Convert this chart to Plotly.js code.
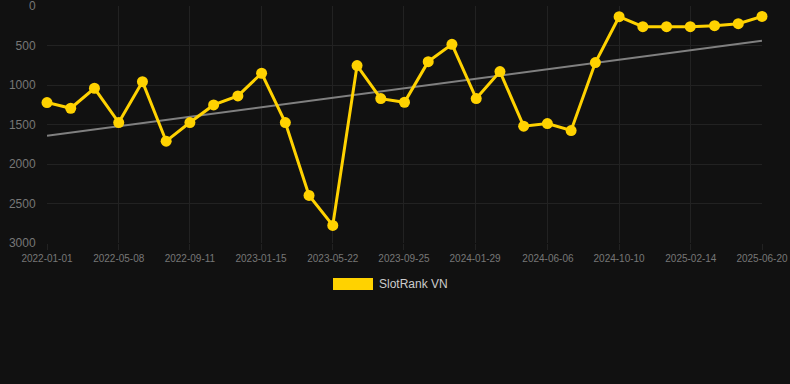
<!DOCTYPE html>
<html>
<head>
<meta charset="utf-8">
<script src="https://cdn.plot.ly/plotly-3.0.1.min.js"></script>
<style>
  html, body { margin: 0; padding: 0; background: #111111; }
  #chart { width: 790px; height: 384px; }
</style>
</head>
<body>
<div id="chart"></div>
<script>
const seriesName = "SlotRank VN";
const dates = [
  "2022-01-01", "2022-02-12", "2022-03-26", "2022-05-08", "2022-06-19",
  "2022-07-31", "2022-09-11", "2022-10-23", "2022-12-05", "2023-01-16",
  "2023-02-27", "2023-04-10", "2023-05-22", "2023-07-04", "2023-08-15",
  "2023-09-26", "2023-11-07", "2023-12-19", "2024-01-31", "2024-03-13",
  "2024-04-24", "2024-06-05", "2024-07-17", "2024-08-29", "2024-10-10",
  "2024-11-21", "2025-01-02", "2025-02-13", "2025-03-28", "2025-05-09",
  "2025-06-20"
];
const ranks = [
  1222, 1294, 1041, 1475, 957,
  1711, 1475, 1252, 1138, 851,
  1475, 2398, 2777, 754, 1172,
  1218, 704, 485, 1172, 830,
  1521, 1488, 1576, 716, 135,
  261, 261, 261, 249, 223,
  131
];
const trendDates = ["2022-01-01", "2025-06-20"];
const trendValues = [1643, 438];
const xTickVals = [
  "2022-01-01", "2022-05-08", "2022-09-11", "2023-01-15", "2023-05-22",
  "2023-09-25", "2024-01-29", "2024-06-06", "2024-10-10", "2025-02-14",
  "2025-06-20"
];
const yTickVals = [0, 500, 1000, 1500, 2000, 2500, 3000];

const yellow = "#FFD200";

const traces = [
  {
    x: trendDates, y: trendValues, type: "scatter", mode: "lines",
    line: { color: "#808080", width: 2 }, showlegend: false, hoverinfo: "skip",
    cliponaxis: false
  },
  {
    x: dates, y: ranks, type: "scatter", mode: "lines+markers", name: seriesName,
    line: { color: yellow, width: 3 },
    marker: { color: yellow, size: 11 },
    showlegend: false, cliponaxis: false
  }
];

const layout = {
  width: 790, height: 384,
  paper_bgcolor: "#111111", plot_bgcolor: "#111111",
  margin: { l: 47, r: 28, t: 6, b: 141 },
  showlegend: false,
  xaxis: {
    type: "date",
    range: ["2022-01-01", "2025-06-20"],
    tickvals: xTickVals, ticktext: xTickVals,
    tickfont: { family: "Liberation Sans, Arial, sans-serif", size: 10, color: "#777777" },
    gridcolor: "#222222", gridwidth: 1,
    showline: false, zeroline: false,
    ticks: "outside", ticklen: 6, tickcolor: "#222222",
    fixedrange: true
  },
  yaxis: {
    range: [3000, -0.5],
    tickvals: yTickVals,
    ticklabeloverflow: "allow",
    tickfont: { family: "Liberation Sans, Arial, sans-serif", size: 12, color: "#777777" },
    gridcolor: "#222222", gridwidth: 1,
    showline: false, zeroline: false,
    ticks: "outside", ticklen: 8, tickcolor: "rgba(0,0,0,0)",
    fixedrange: true
  },
  shapes: [
    {
      type: "rect", xref: "paper", yref: "paper",
      x0: (333 - 47) / 715, x1: (373 - 47) / 715,
      y0: (243 - 290) / 237, y1: (243 - 278) / 237,
      fillcolor: yellow, line: { width: 0 }
    }
  ],
  annotations: [
    {
      text: seriesName, xref: "paper", yref: "paper",
      x: (377 - 47) / 715, y: (243 - 284) / 237,
      xanchor: "left", yanchor: "middle", showarrow: false,
      font: { family: "Liberation Sans, Arial, sans-serif", size: 12, color: "#cccccc" }
    }
  ]
};

Plotly.newPlot("chart", traces, layout, { displayModeBar: false, staticPlot: true });
</script>
</body>
</html>
